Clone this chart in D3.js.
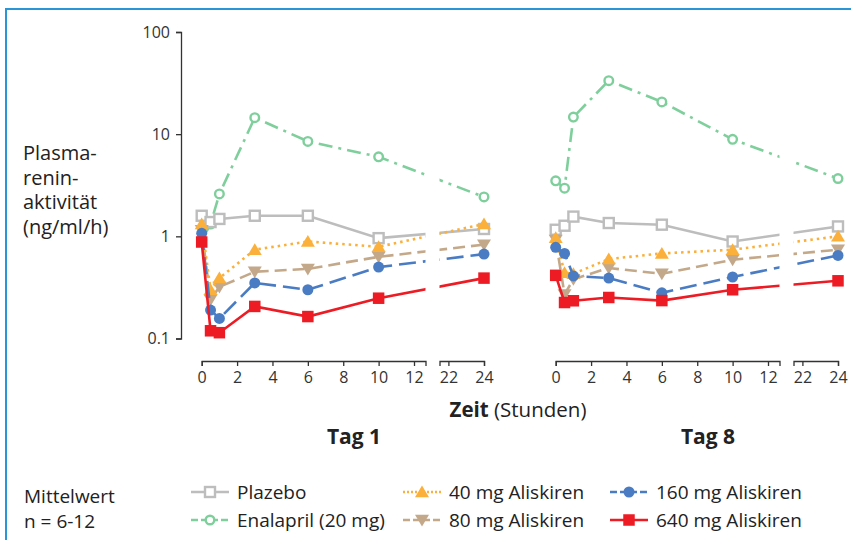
<!DOCTYPE html>
<html>
<head>
<meta charset="utf-8">
<script src="https://cdn.jsdelivr.net/npm/d3@7"></script>
<style>
  body { margin: 0; background: #fff; }
  svg { display: block; font-family: "Open Sans", "Noto Sans", sans-serif; }
  .axis text { font-size: 16px; fill: #333; font-family: "Open Sans", sans-serif; }
  .axis path, .axis line { stroke: #333; stroke-width: 1.3; }
</style>
</head>
<body>
<div id="chart"></div>
<script>
// sampling times (hours)
const hours = [0, 0.5, 1, 3, 6, 10, 24];

// Tag 1 values (ng/ml/h)
const plazeboTag1   = [1.59, 1.38, 1.48, 1.59, 1.59, 0.96, 1.18];
const enalaprilTag1 = [0.92, 1.32, 2.6, 14.5, 8.5, 6.0, 2.43];
const ali40Tag1     = [1.32, 0.30, 0.39, 0.74, 0.89, 0.79, 1.32];
const ali80Tag1     = [1.15, 0.24, 0.32, 0.45, 0.48, 0.63, 0.83];
const ali160Tag1    = [1.07, 0.19, 0.157, 0.35, 0.30, 0.50, 0.67];
const ali640Tag1    = [0.88, 0.119, 0.114, 0.206, 0.164, 0.248, 0.39];

// Tag 8 values
const plazeboTag8   = [1.16, 1.27, 1.56, 1.35, 1.30, 0.89, 1.25];
const enalaprilTag8 = [3.49, 2.96, 14.7, 33.4, 20.7, 8.9, 3.68];
const ali40Tag8     = [0.97, 0.44, 0.43, 0.60, 0.68, 0.74, 1.0];
const ali80Tag8     = [0.92, 0.27, 0.38, 0.49, 0.43, 0.59, 0.74];
const ali160Tag8    = [0.78, 0.68, 0.41, 0.39, 0.28, 0.40, 0.65];
const ali640Tag8    = [0.415, 0.225, 0.234, 0.252, 0.235, 0.30, 0.367];

const seriesLabels = ["Plazebo", "Enalapril (20 mg)", "40 mg Aliskiren", "80 mg Aliskiren", "160 mg Aliskiren", "640 mg Aliskiren"];
const panelLabels = ["Tag 1", "Tag 8"];
const xTicksA = [0, 2, 4, 6, 8, 10, 12];
const xTicksB = [22, 24];
const yTicks = [0.1, 1, 10, 100];

// styles per series
const styles = [
    {color: "#bdbdbd", dash: null, marker: "square", open: true},
    {color: "#7fcf9c", dash: "14,6,3,6", marker: "circle", open: true},
    {color: "#fbb03b", dash: "2.5,4", marker: "triUp", open: false},
    {color: "#c4a88a", dash: "12,6", marker: "triDown", open: false},
    {color: "#4a7cc4", dash: "17,7", marker: "circle", open: false},
    {color: "#ed1c24", dash: null, marker: "square", open: false}
];

const panels = [
    [plazeboTag1, enalaprilTag1, ali40Tag1, ali80Tag1, ali160Tag1, ali640Tag1],
    [plazeboTag8, enalaprilTag8, ali40Tag8, ali80Tag8, ali160Tag8, ali640Tag8]
];
const drawOrder = [1, 0, 3, 2, 4, 5];

const width = 851, height = 540;
const svg = d3.select("#chart").append("svg")
    .attr("width", width)
    .attr("height", height);

// frame
svg.append("path")
    .attr("d", "M6," + height + "V9H" + width)
    .attr("fill", "none")
    .attr("stroke", "#2b96d6")
    .attr("stroke-width", 2);

// y scale
const y = d3.scaleLog().domain([0.1, 100]).range([338.5, 32]);

svg.append("g")
    .attr("class", "axis")
    .attr("transform", "translate(181,0)")
    .call(d3.axisLeft(y).tickValues(yTicks).tickFormat(d => String(d)).tickSize(5).tickPadding(6));

// y title
const yTitle = ["Plasma-", "renin-", "aktivität", "(ng/ml/h)"];
svg.append("g").selectAll("text")
    .data(yTitle)
    .join("text")
    .attr("x", 23)
    .attr("y", (d, i) => 160 + i * 24.5)
    .attr("font-size", 20)
    .attr("fill", "#222")
    .text(d => d);

const segGap = [425.5, 439.5];

panels.forEach((panelData, p) => {
    const off = p * 354;
    const xa = d3.scaleLinear().domain([0, 12.65]).range([201.7 + off, 425.5 + off]);
    const xb = d3.scaleLinear().domain([21.5, 24]).range([439.5 + off, 484 + off]);
    const x = t => t <= 12.65 ? xa(t) : xb(t);

    const g = svg.append("g");

    g.append("g")
        .attr("class", "axis")
        .attr("transform", "translate(0,361)")
        .call(d3.axisBottom(xa).tickValues(xTicksA).tickFormat(d3.format("d")).tickSize(5).tickSizeOuter(5).tickPadding(6));
    g.append("g")
        .attr("class", "axis")
        .attr("transform", "translate(0,361)")
        .call(d3.axisBottom(xb).tickValues(xTicksB).tickFormat(d3.format("d")).tickSize(5).tickSizeOuter(5).tickPadding(6));

    // clip for the axis break
    const clipId = "clip" + p;
    const cp = svg.append("defs").append("clipPath").attr("id", clipId);
    cp.append("rect").attr("x", 0).attr("y", 0).attr("width", segGap[0] + off).attr("height", height);
    cp.append("rect").attr("x", segGap[1] + off).attr("y", 0).attr("width", 200).attr("height", height);

    const line = d3.line()
        .x((d, i) => x(hours[i]))
        .y(d => y(d));

    drawOrder.forEach(s => {
        const st = styles[s];
        const vals = panelData[s];
        g.append("path")
            .datum(vals)
            .attr("clip-path", "url(#" + clipId + ")")
            .attr("d", line)
            .attr("fill", "none")
            .attr("stroke", st.color)
            .attr("stroke-width", 2.6)
            .attr("stroke-dasharray", st.dash);

        const pts = g.append("g");
        vals.forEach((v, i) => drawMarker(pts, st, x(hours[i]), y(v)));
    });

    svg.append("text")
        .attr("x", 354 + off)
        .attr("y", 444)
        .attr("text-anchor", "middle")
        .attr("font-size", 21)
        .attr("font-weight", "bold")
        .attr("fill", "#222")
        .text(panelLabels[p]);
});

function drawMarker(sel, st, cx, cy) {
    let sym;
    if (st.marker === "square") {
        const s = st.open ? 10 : 11.5;
        sym = sel.append("rect").attr("x", cx - s / 2).attr("y", cy - s / 2).attr("width", s).attr("height", s);
    } else if (st.marker === "circle") {
        sym = sel.append("circle").attr("cx", cx).attr("cy", cy).attr("r", st.open ? 4.3 : 5.5);
    } else {
        const h = 6.5, w = 7;
        const dir = st.marker === "triUp" ? 1 : -1;
        sym = sel.append("path")
            .attr("d", `M${cx},${cy - dir * h}L${cx + w},${cy + dir * h * 0.8}L${cx - w},${cy + dir * h * 0.8}Z`);
    }
    if (st.open) {
        sym.attr("fill", "#fff").attr("stroke", st.color).attr("stroke-width", 2.4);
    } else {
        sym.attr("fill", st.color);
    }
}

// x title
const xt = svg.append("text")
    .attr("x", 518)
    .attr("y", 417)
    .attr("text-anchor", "middle")
    .attr("font-size", 20.5)
    .attr("fill", "#222");
xt.append("tspan").attr("font-weight", "bold").text("Zeit");
xt.append("tspan").text(" (Stunden)");

// legend
svg.append("text").attr("x", 24).attr("y", 503).attr("font-size", 19).attr("fill", "#222").text("Mittelwert");
svg.append("text").attr("x", 24).attr("y", 528).attr("font-size", 19).attr("fill", "#222").text("n = 6-12");

const legendCols = [191, 403, 610];
const legendRows = [492, 520];
const legendOrder = [0, 2, 4, 1, 3, 5];
legendOrder.forEach((s, k) => {
    const lx = legendCols[k % 3];
    const ly = legendRows[Math.floor(k / 3)];
    const st = styles[s];
    const lg = svg.append("g");
    lg.append("line")
        .attr("x1", lx).attr("x2", lx + 38)
        .attr("y1", ly).attr("y2", ly)
        .attr("stroke", st.color)
        .attr("stroke-width", 2.6)
        .attr("stroke-dasharray", st.dash ? (s === 2 ? "2,2" : "7,3") : null);
    drawMarker(lg, st, lx + 19, ly);
    lg.append("text")
        .attr("x", lx + 46)
        .attr("y", ly + 6.5)
        .attr("font-size", 19)
        .attr("fill", "#222")
        .text(seriesLabels[s]);
});
</script>
</body>
</html>
